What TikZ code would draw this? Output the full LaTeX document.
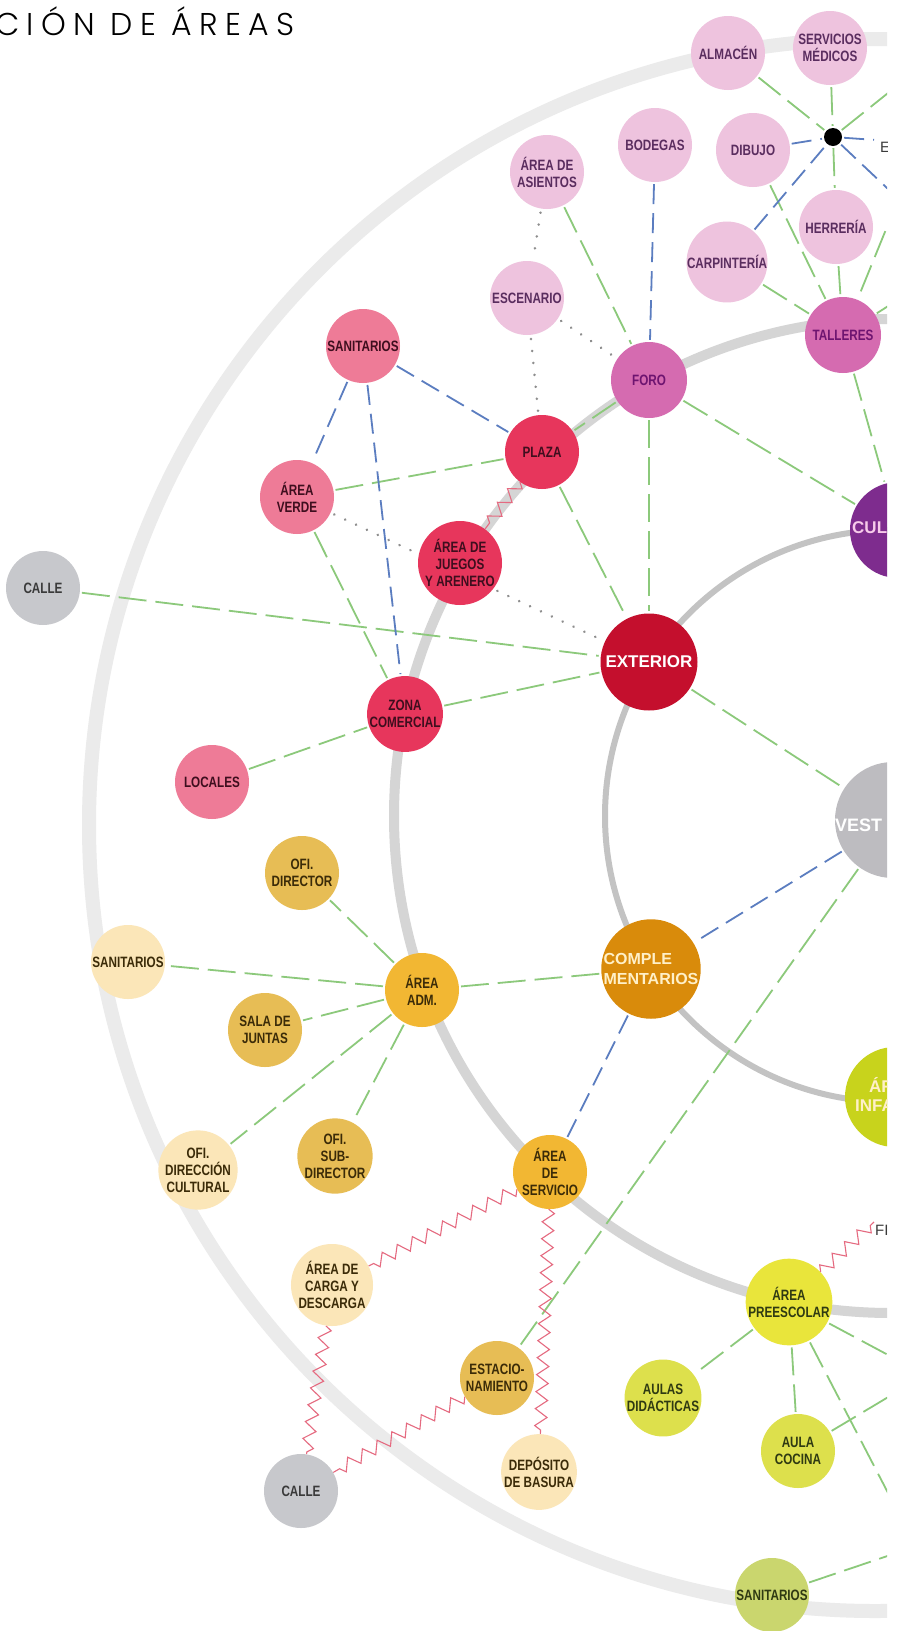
\documentclass[tikz,border=0pt]{standalone}
\usepackage{fontspec}
\usetikzlibrary{decorations.pathmorphing}
\newfontfamily\nfont{Liberation Sans}[FakeStretch=0.78]
\newfontfamily\wfont{Liberation Sans}
\IfFontExistsTF{Poppins Light}{\newfontfamily\tfont{Poppins Light}[LetterSpace=23]}{\newfontfamily\tfont{Poppins}[LetterSpace=23]}
\pgfdeclarelayer{back}
\pgfdeclarelayer{bg}
\pgfsetlayers{back,bg,main}
\definecolor{ringA}{HTML}{EBEBEB}
\definecolor{ringB}{HTML}{D5D5D5}
\definecolor{ringC}{HTML}{C3C3C3}
\definecolor{lgreen}{HTML}{8CC97B}
\definecolor{lblue}{HTML}{5B7DC0}
\definecolor{dotc}{HTML}{8E8E8E}
\definecolor{zz}{HTML}{E56A80}
\definecolor{pinkL}{HTML}{EEC3DE}
\definecolor{pinkM}{HTML}{D56BB0}
\definecolor{purp}{HTML}{7E2C8E}
\definecolor{rose}{HTML}{EE7B97}
\definecolor{crim}{HTML}{E7365C}
\definecolor{dred}{HTML}{C40F2D}
\definecolor{greyV}{HTML}{BDBCC0}
\definecolor{greyC}{HTML}{C7C8CC}
\definecolor{orng}{HTML}{D98B0B}
\definecolor{gold}{HTML}{F2B733}
\definecolor{must}{HTML}{E7BD55}
\definecolor{beige}{HTML}{FBE6B8}
\definecolor{yel}{HTML}{E9E53B}
\definecolor{ygrn}{HTML}{DDE04C}
\definecolor{lime}{HTML}{C8D31C}
\definecolor{olive}{HTML}{CAD66E}
\definecolor{tPur}{HTML}{5A2D5F}
\definecolor{tMag}{HTML}{6E1470}
\definecolor{tDk}{HTML}{3E0E1E}
\definecolor{tBr}{HTML}{3B2B08}
\definecolor{tGr}{HTML}{2F3A12}
\definecolor{tGy}{HTML}{3A3A3A}
\definecolor{creme}{HTML}{FFF0C8}
\definecolor{culT}{HTML}{F7CBEA}
\tikzset{
  nd/.style={circle, inner sep=0pt, minimum size=74pt, align=center,
    font={\nfont\bfseries\fontsize{15pt}{17pt}\selectfont}},
  wd/.style={font={\wfont\bfseries\fontsize{17pt}{19pt}\selectfont}},
  gline/.style={draw=lgreen, line width=1.8pt, dash pattern=on 28pt off 9pt, shorten <=2pt, shorten >=2pt},
  bline/.style={draw=lblue, line width=1.8pt, dash pattern=on 20pt off 9pt, shorten <=2pt, shorten >=2pt},
  dline/.style={draw=dotc, line width=2.8pt, dash pattern=on 0.01pt off 12pt, line cap=round, shorten <=4pt, shorten >=4pt},
  zline/.style={draw=zz, line width=1.1pt, decorate, decoration={zigzag, amplitude=6pt, segment length=17pt}},
  lab/.style={inner sep=0pt, anchor=west}
}
\begin{document}
\begin{tikzpicture}[x=1pt,y=-1pt]
\useasboundingbox (0,0) rectangle (897,1631);
\begin{pgfonlayer}{back}
\fill[white] (0,0) rectangle (897,1631);
\end{pgfonlayer}
\begin{scope}
\clip (0,0) rectangle (887,1631);
\node[anchor=base west, inner sep=0pt, text=black, font={\tfont\fontsize{31.5pt}{32pt}\selectfont}] (title) at (-5,35) {CIÓN DE ÁREAS};
% top cluster
\node[nd, fill=pinkL, text=tPur] (alm) at (728,53) {ALMACÉN};
\node[nd, fill=pinkL, text=tPur] (serv) at (830,48) {SERVICIOS\\MÉDICOS};
\node[nd, fill=pinkL, text=tPur] (bod) at (655,145) {BODEGAS};
\node[nd, fill=pinkL, text=tPur] (dib) at (753,150) {DIBUJO};
\node[nd, fill=pinkL, text=tPur] (asi) at (547,172) {ÁREA DE\\ASIENTOS};
\node[nd, fill=pinkL, text=tPur] (her) at (836,227) {HERRERÍA};
\node[nd, fill=pinkL, text=tPur] (car) at (727,262) {CARPINTERÍA};
\node[nd, fill=pinkL, text=tPur] (esc) at (527,298) {ESCENARIO};
\node[circle, fill=black, inner sep=0pt, minimum size=18pt] (hub) at (833,137) {};
\node[nd, fill=pinkM, text=tMag, minimum size=76pt] (tal) at (843,335) {TALLERES};
\node[nd, fill=pinkM, text=tMag, minimum size=76pt] (foro) at (649,380) {FORO};
% exterior cluster
\node[nd, fill=rose, text=tDk] (san1) at (363,346) {SANITARIOS};
\node[nd, fill=crim, text=tDk] (pla) at (542,452) {PLAZA};
\node[nd, fill=rose, text=tDk] (ver) at (297,497) {ÁREA\\VERDE};
\node[nd, fill=crim, text=tDk] (jue) at (460,563) {ÁREA DE\\JUEGOS\\Y ARENERO};
\node[nd, fill=greyC, text=tGy] (calle1) at (43,588) {CALLE};
\node[nd, wd, fill=dred, text=white, minimum size=97pt] (ext) at (649,662) {EXTERIOR};
\node[nd, fill=crim, text=tDk] (zon) at (405,714) {ZONA\\COMERCIAL};
\node[nd, fill=rose, text=tDk] (loc) at (212,782) {LOCALES};
% inner ring nodes cut by the edge
\node[nd, fill=purp, minimum size=96pt] (cul) at (898,530) {};
\node[lab, wd, text=culT] (cullab) at (852,528) {CUL};
\node[nd, fill=greyV, minimum size=116pt] (vest) at (893,820) {};
\node[lab, wd, text=white, font={\wfont\bfseries\fontsize{18pt}{19pt}\selectfont}] (vestlab) at (835,825) {VEST};
\node[nd, fill=lime, minimum size=100pt] (inf) at (895,1097) {};
\node[lab, wd, text=creme] (inflab1) at (869,1085) {ÁR};
\node[lab, wd, text=creme] (inflab2) at (855,1106) {INFA};
% administration
\node[nd, fill=must, text=tBr] (dir) at (302,873) {OFI.\\DIRECTOR};
\node[nd, fill=beige, text=tBr] (san2) at (128,962) {SANITARIOS};
\node[nd, fill=gold, text=tBr] (adm) at (422,990) {ÁREA\\ADM.};
\node[nd, wd, fill=orng, text=creme, minimum size=98pt, align=left, font={\wfont\bfseries\fontsize{16pt}{20pt}\selectfont}] (comp) at (651,969) {COMPLE\\MENTARIOS};
\node[nd, fill=must, text=tBr] (sala) at (265,1030) {SALA DE\\JUNTAS};
\node[nd, fill=beige, text=tBr] (ofc) at (198,1170) {OFI.\\DIRECCIÓN\\CULTURAL};
\node[nd, fill=must, text=tBr] (sub) at (335,1156) {OFI.\\SUB-\\DIRECTOR};
\node[nd, fill=gold, text=tBr] (ser) at (550,1172) {ÁREA\\DE\\SERVICIO};
\node[nd, fill=beige, text=tBr] (cdg) at (332,1285) {ÁREA DE\\CARGA Y\\DESCARGA};
\node[nd, fill=must, text=tBr] (est) at (497,1378) {ESTACIO-\\NAMIENTO};
\node[nd, fill=beige, text=tBr] (dep) at (539,1472) {DEPÓSITO\\DE BASURA};
\node[nd, fill=greyC, text=tGy] (calle2) at (301,1491) {CALLE};
% preschool
\node[nd, fill=yel, text=tGr] (pre) at (789,1302) {ÁREA\\PREESCOLAR};
\node[nd, fill=ygrn, text=tGr] (aul) at (663,1398) {AULAS\\DIDÁCTICAS};
\node[nd, fill=ygrn, text=tGr] (coc) at (798,1451) {AULA\\COCINA};
\node[nd, fill=olive, text=tGr] (san3) at (772,1595) {SANITARIOS};
% edge texts
\node[lab, text=tGy, font={\wfont\fontsize{15pt}{17pt}\selectfont}] (fitxt) at (875,1230) {FI};
\node[lab, text=tGy, font={\wfont\fontsize{15pt}{17pt}\selectfont}] (etxt) at (880,147) {E};
% free ends
\coordinate (offA) at (933,57);
\coordinate (offB) at (900,195);
\coordinate (offC) at (910,292);
\coordinate (offD) at (920,1372);
\coordinate (offE) at (900,1516);
\coordinate (offF) at (910,1384);
\coordinate (offG) at (920,1545);
\coordinate (offH) at (905,205);
\coordinate (eT) at (876,140);
\coordinate (fiA) at (874,1222);
\end{scope}
\begin{pgfonlayer}{bg}
\begin{scope}
\clip (0,0) rectangle (887,1631);
\draw[ringA, line width=14pt] (875,825) circle[radius=786pt];
\draw[ringB, line width=10pt] (891,816) circle[radius=497pt];
\draw[ringC, line width=6pt] (891,816) circle[radius=286pt];
% green relations
\draw[gline] (alm) -- (hub);
\draw[gline] (serv) -- (hub);
\draw[gline] (hub) -- (offA);
\draw[gline] (hub) -- (her);
\draw[gline] (dib) -- (tal);
\draw[gline] (her) -- (tal);
\draw[gline] (car) -- (tal);
\draw[gline] (offB) -- (tal);
\draw[gline] (tal) -- (offC);
\draw[gline] (tal) -- (cul);
\draw[gline] (asi) -- (foro);
\draw[gline] (foro) -- (pla);
\draw[gline] (foro) -- (ext);
\draw[gline] (foro) -- (cul);
\draw[gline] (ver) -- (pla);
\draw[gline] (ver) -- (zon);
\draw[gline] (pla) -- (ext);
\draw[gline] (calle1) -- (ext);
\draw[gline] (zon) -- (ext);
\draw[gline] (loc) -- (zon);
\draw[gline] (ext) -- (vest);
\draw[gline] (vest) -- (est);
\draw[gline] (comp) -- (adm);
\draw[gline] (adm) -- (dir);
\draw[gline] (adm) -- (san2);
\draw[gline] (adm) -- (sala);
\draw[gline] (adm) -- (ofc);
\draw[gline] (adm) -- (sub);
\draw[gline] (pre) -- (aul);
\draw[gline] (pre) -- (coc);
\draw[gline] (pre) -- (offD);
\draw[gline] (pre) -- (offE);
\draw[gline] (coc) -- (offF);
\draw[gline] (san3) -- (offG);
% blue relations
\draw[bline] (dib) -- (hub);
\draw[bline] (hub) -- (eT);
\draw[bline] (hub) -- (offH);
\draw[bline] (car) -- (hub);
\draw[bline] (bod) -- (foro);
\draw[bline] (san1) -- (pla);
\draw[bline] (san1) -- (ver);
\draw[bline] (san1) -- (zon);
\draw[bline] (vest) -- (comp);
\draw[bline] (comp) -- (ser);
% dotted relations
\draw[dline] (asi) -- (esc);
\draw[dline] (esc) -- (foro);
\draw[dline] (esc) -- (pla);
\draw[dline] (ver) -- (ext);
% zigzag relations
\draw[zline] (pla) -- (jue);
\draw[zline] (ser) -- (cdg);
\draw[zline] (ser) -- (dep);
\draw[zline] (cdg) -- (calle2);
\draw[zline] (est) -- (calle2);
\draw[zline] (pre) -- (fiA);
\end{scope}
\end{pgfonlayer}
\end{tikzpicture}
\end{document}
